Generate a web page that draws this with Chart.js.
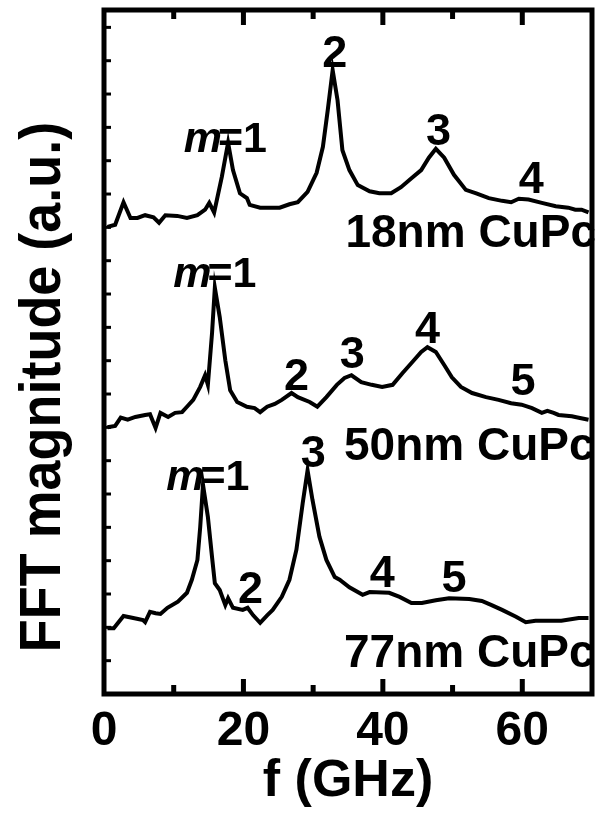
<!DOCTYPE html>
<html>
<head>
<meta charset="utf-8">
<title>FFT magnitude – CuPc</title>
<script src="https://cdn.jsdelivr.net/npm/chart.js@4.4.1/dist/chart.umd.min.js"></script>
<style>
  html, body { margin: 0; padding: 0; background: #fff; }
</style>
</head>
<body>
<canvas id="fft" width="596" height="813"></canvas>
<script>
// spectra, one per CuPc thickness; magnitudes relative to each trace's offset
const freq18 = [0.5, 1.6, 2.8, 3.8, 4.8, 5.9, 7.1, 7.9, 8.8, 10.5, 11.9, 13.4, 14.5, 15.1, 15.8, 16.9, 17.8, 18.5, 19.5, 20.5, 20.9, 22.4, 25.2, 26.6, 27.8, 29.2, 30.5, 31.4, 32.1, 32.8, 33.5, 34.2, 35.2, 36.4, 38.1, 39.5, 41.2, 42.6, 44.1, 45.5, 46.6, 47.6, 48.8, 50.2, 51.9, 53.4, 55.2, 57.1, 58.4, 59.5, 60.9, 62.8, 64.8, 66.6, 67.6, 68.5, 69.5];
const mag18 = [8.3, 8.6, 11.9, 9.6, 9.6, 10.0, 9.7, 8.9, 10.0, 9.9, 9.6, 10.0, 10.8, 11.8, 10.4, 15.6, 20.6, 16.6, 13.2, 12.5, 11.5, 11.1, 11.1, 11.6, 11.9, 13.4, 16.2, 20.0, 25.4, 31.2, 26.8, 19.5, 16.6, 14.4, 13.5, 13.2, 13.2, 14.1, 15.4, 16.6, 18.4, 19.7, 18.4, 15.9, 13.7, 13.2, 12.5, 12.1, 11.9, 12.4, 12.3, 11.8, 11.3, 11.1, 10.8, 10.8, 10.4];

const freq50 = [0.5, 1.6, 2.4, 3.4, 4.5, 5.9, 6.6, 7.4, 8.1, 9.2, 10.2, 11.2, 11.9, 12.8, 13.8, 14.5, 14.9, 15.5, 15.9, 16.6, 17.4, 18.1, 19.1, 20.5, 21.6, 22.4, 23.4, 24.5, 25.5, 26.9, 27.8, 29.5, 30.6, 31.9, 33.4, 34.5, 35.5, 36.9, 38.4, 39.9, 41.4, 42.8, 44.2, 45.5, 46.4, 47.6, 48.8, 49.9, 51.2, 52.8, 54.8, 56.6, 58.4, 59.9, 61.4, 62.8, 63.6, 64.5, 65.2, 67.1, 68.1, 69.5];
const mag50 = [9.0, 9.2, 10.4, 10.1, 10.5, 10.8, 10.9, 8.9, 11.1, 10.5, 11.1, 11.2, 12.0, 13.0, 14.9, 16.6, 15.2, 22.8, 29.4, 25.1, 18.8, 14.4, 12.7, 12.0, 11.8, 11.2, 12.0, 12.4, 13.0, 14.0, 13.4, 12.7, 12.0, 13.4, 15.2, 16.2, 16.6, 15.6, 15.2, 14.9, 15.2, 16.9, 18.5, 20.0, 20.7, 20.0, 18.1, 16.3, 14.9, 14.0, 13.4, 13.0, 12.5, 12.3, 11.8, 11.1, 11.4, 11.1, 10.8, 10.6, 10.4, 10.1];

const freq77 = [0.5, 1.4, 2.8, 4.2, 5.6, 5.9, 6.6, 7.4, 8.1, 9.1, 10.6, 11.9, 12.6, 13.4, 13.8, 14.2, 14.9, 15.5, 15.9, 16.6, 17.4, 17.8, 18.5, 19.9, 20.6, 21.4, 22.4, 23.4, 24.2, 25.5, 26.6, 27.6, 28.5, 29.2, 29.9, 30.9, 31.9, 33.1, 33.8, 35.2, 37.1, 38.1, 40.9, 42.4, 44.1, 45.6, 47.6, 49.5, 52.4, 54.2, 55.6, 57.1, 59.1, 60.5, 61.9, 65.6, 68.1, 69.5];
const mag77 = [9.6, 9.6, 11.4, 11.1, 10.8, 10.5, 12.0, 11.8, 11.7, 12.6, 13.5, 14.8, 16.7, 19.6, 24.4, 30.6, 25.9, 20.0, 16.2, 15.2, 13.0, 14.0, 12.6, 12.3, 12.6, 11.5, 10.4, 11.5, 12.3, 14.2, 16.7, 21.1, 27.9, 32.7, 28.4, 23.0, 19.6, 17.1, 16.7, 15.6, 14.5, 14.9, 14.8, 14.2, 13.3, 13.3, 13.7, 14.0, 13.9, 13.6, 13.0, 12.3, 11.3, 10.5, 10.7, 10.7, 11.1, 11.1];

const traceNames = ["18nm CuPc", "50nm CuPc", "77nm CuPc"];
const traceOffsets = [60, 30, 0];
const xTickValues = [0, 20, 40, 60];

// mode numbers and sample names, placed in data coordinates (f, magnitude)
const peakLabels = [
  { text: "m=1", f: 17.4, v: 79.2 },
  { text: "2", f: 33.1, v: 91.7 },
  { text: "3", f: 48.0, v: 80.3 },
  { text: "4", f: 61.3, v: 73.2 },
  { text: "m=1", f: 15.9, v: 59.5 },
  { text: "2", f: 27.6, v: 44.4 },
  { text: "3", f: 35.6, v: 47.7 },
  { text: "4", f: 46.4, v: 51.3 },
  { text: "5", f: 60.1, v: 43.7 },
  { text: "m=1", f: 14.9, v: 29.8 },
  { text: "2", f: 21.0, v: 13.3 },
  { text: "3", f: 30.0, v: 33.2 },
  { text: "4", f: 39.9, v: 15.6 },
  { text: "5", f: 50.2, v: 14.9 }
];
const nameLabels = [
  { f: 52.6, v: 65.4 },
  { f: 52.4, v: 34.2 },
  { f: 52.4, v: 3.9 }
];

const yMinorStep = 4.873;
const FONT = "'Liberation Sans', Arial, Helvetica, sans-serif";

function buildSeries(freqs, mags, offset) {
  return freqs.map((f, i) => ({ x: f, y: mags[i] + offset }));
}

const spectra = [
  buildSeries(freq18, mag18, traceOffsets[0]),
  buildSeries(freq50, mag50, traceOffsets[1]),
  buildSeries(freq77, mag77, traceOffsets[2])
];

const framePlugin = {
  id: "frameAndLabels",
  afterDraw(chart) {
    const { ctx, chartArea: a, scales } = chart;
    const x = scales.x;
    const y = scales.y;
    ctx.save();
    ctx.strokeStyle = "#000";
    ctx.fillStyle = "#000";

    // inward ticks, top and bottom
    ctx.lineWidth = 5;
    for (let f = 10; f < 70; f += 10) {
      const px = x.getPixelForValue(f);
      const len = f % 20 === 0 ? 15 : 9;
      ctx.beginPath();
      ctx.moveTo(px, a.bottom);
      ctx.lineTo(px, a.bottom - len);
      ctx.moveTo(px, a.top);
      ctx.lineTo(px, a.top + len);
      ctx.stroke();
    }

    // small ticks along the left axis
    ctx.lineWidth = 3;
    for (let v = yMinorStep; v < 100; v += yMinorStep) {
      const py = y.getPixelForValue(v);
      ctx.beginPath();
      ctx.moveTo(a.left, py);
      ctx.lineTo(a.left + 7, py);
      ctx.stroke();
    }

    ctx.lineWidth = 5;
    ctx.strokeRect(a.left, a.top, a.right - a.left, a.bottom - a.top);

    // peak labels
    ctx.textBaseline = "alphabetic";
    peakLabels.forEach(l => {
      const px = x.getPixelForValue(l.f);
      const py = y.getPixelForValue(l.v);
      if (l.text.startsWith("m=")) {
        ctx.font = "italic bold 43px " + FONT;
        const wm = ctx.measureText("m").width;
        ctx.font = "bold 43px " + FONT;
        const rest = l.text.slice(1);
        const wr = ctx.measureText(rest).width;
        const start = px - (wm + wr - 4) / 2;
        ctx.textAlign = "left";
        ctx.font = "italic bold 43px " + FONT;
        ctx.fillText("m", start, py);
        ctx.font = "bold 43px " + FONT;
        ctx.fillText(rest, start + wm - 4, py);
      } else {
        ctx.font = "bold 45px " + FONT;
        ctx.textAlign = "center";
        ctx.fillText(l.text, px, py);
      }
    });

    ctx.font = "bold 46px " + FONT;
    ctx.textAlign = "center";
    nameLabels.forEach((l, i) => {
      ctx.fillText(traceNames[i], x.getPixelForValue(l.f), y.getPixelForValue(l.v));
    });

    // y axis title, slightly condensed
    ctx.translate(a.left - 44, (a.top + a.bottom) / 2 + 35);
    ctx.rotate(-Math.PI / 2);
    ctx.scale(0.93, 1);
    ctx.font = "bold 58px " + FONT;
    ctx.textAlign = "center";
    ctx.fillText("FFT magnitude (a.u.)", 0, 0);
    ctx.restore();
  }
};

new Chart(document.getElementById("fft"), {
  type: "line",
  data: {
    datasets: spectra.map((pts, i) => ({
      label: traceNames[i],
      data: pts,
      borderColor: "#000",
      borderWidth: 4,
      pointRadius: 0,
      tension: 0,
      fill: false
    }))
  },
  options: {
    responsive: false,
    animation: false,
    layout: { padding: { top: 10, right: 4, left: 0, bottom: 0 } },
    plugins: {
      legend: { display: false },
      tooltip: { enabled: false }
    },
    scales: {
      x: {
        type: "linear",
        min: 0,
        max: 70,
        afterFit(scale) { scale.height = 119; },
        afterBuildTicks(scale) {
          scale.ticks = xTickValues.map(v => ({ value: v }));
        },
        grid: { display: false },
        border: { display: false },
        ticks: {
          color: "#000",
          padding: 1,
          maxRotation: 0,
          autoSkip: false,
          font: { family: FONT, size: 48, weight: "bold" }
        },
        title: {
          display: true,
          text: "f (GHz)",
          color: "#000",
          padding: 0,
          font: { family: FONT, size: 52, weight: "bold" }
        }
      },
      y: {
        min: 0,
        max: 100,
        afterFit(scale) { scale.width = 104; },
        grid: { display: false },
        border: { display: false },
        ticks: { display: false }
      }
    }
  },
  plugins: [framePlugin]
});
</script>
</body>
</html>
